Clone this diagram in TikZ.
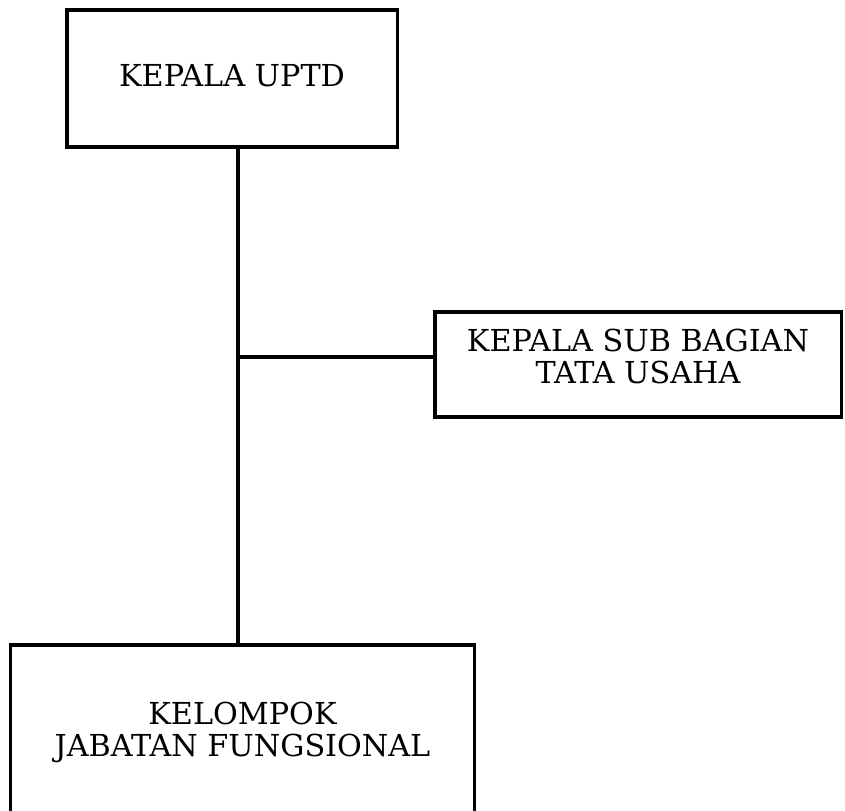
\documentclass[tikz,border=0pt]{standalone}
\usepackage{fontspec}
\setmainfont{DejaVu Serif}
\begin{document}
\begin{tikzpicture}[x=0.025cm,y=-0.025cm,line width=2.2pt]
\tikzset{kotak/.style={draw,align=center,inner sep=0pt,font=\fontsize{21.5}{23}\selectfont}}

\useasboundingbox (0,0) rectangle (845,810);
\clip (0,0) rectangle (845,810);

\node[kotak,minimum width=8.25cm,minimum height=3.425cm,text depth=0.15cm] (uptd) at (232,78.5) {KEPALA UPTD};
\node[kotak,minimum width=10.15cm,minimum height=2.625cm,text depth=0.4cm] (tu) at (638,364.5) {KEPALA SUB BAGIAN\\TATA USAHA};
\node[kotak,minimum width=11.575cm,minimum height=4.375cm] (jf) at (242.5,732.5) {KELOMPOK\\JABATAN FUNGSIONAL};

\coordinate (cabang) at (238,357);

\draw (uptd.south -| cabang) -- (jf.north -| cabang);
\draw (cabang) -- (cabang -| tu.west);

\end{tikzpicture}
\end{document}
